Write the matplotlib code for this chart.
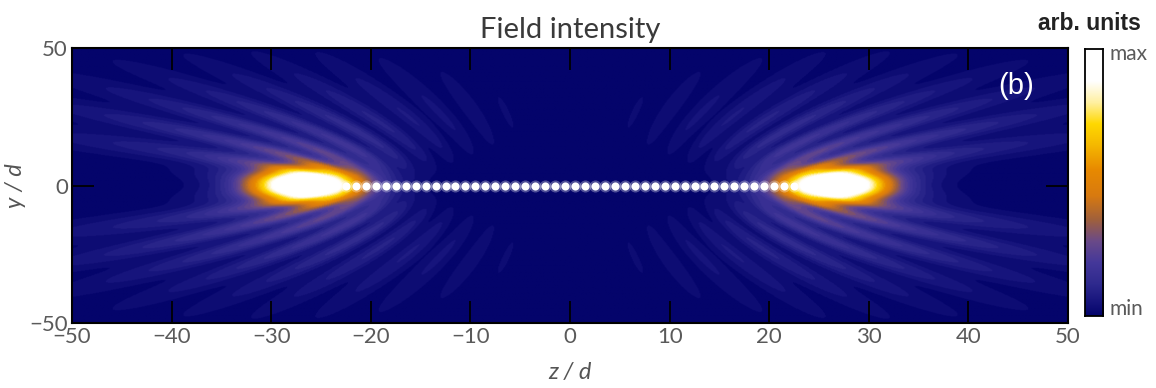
import numpy as np
import matplotlib
matplotlib.use("Agg")
import matplotlib.pyplot as plt
from matplotlib.colors import LinearSegmentedColormap

# chain of atoms along z (units of the lattice spacing d)
atom_z = np.arange(-24.5, 25.0, 1.0)
atom_y = np.zeros_like(atom_z)

# bright spots sitting just past both ends of the chain
spot_z = [-26.5, 26.5]
spot_amp = [1.0, 1.0]
spot_wz = [5.4, 5.4]
spot_wy = [6.0, 6.0]

# soft glow around each spot
glow_amp = 0.16
glow_wz = 10.0
glow_wy = 13.0

# light radiated out of the two ends (interferes between the ends)
wavelength = 4.5
lobe_amp = 0.17
lobe_len_out = 38.0
lobe_len_in = 21.0
lobe_len_y = 32.0
lobe_fwd = 0.4
lobe_hole = 7.0
fringe_depth = 0.45

x_ticks = [-50, -40, -30, -20, -10, 0, 10, 20, 30, 40, 50]
y_ticks = [-50, 0, 50]

cmap_stops = [0.0, 0.06, 0.12, 0.20, 0.28, 0.36, 0.45, 0.55, 0.64, 0.72, 0.80, 0.88, 1.0]
cmap_colors = ["#04046b", "#1a177f", "#2f2a8e", "#45389a", "#6a4a88", "#a0603c",
               "#d87a10", "#e88a00", "#f5b800", "#ffd800", "#fff0a0", "#ffffff", "#ffffff"]
field_cmap = LinearSegmentedColormap.from_list("field", list(zip(cmap_stops, cmap_colors)))
band_cmap = field_cmap.resampled(40)

z = np.linspace(-50, 50, 1001)
y = np.linspace(-50, 50, 501)
Z, Y = np.meshgrid(z, y)

core = np.zeros_like(Z)
lobes = np.zeros_like(Z)
dist = []
for zc, a, wz, wy in zip(spot_z, spot_amp, spot_wz, spot_wy):
    rho = np.hypot((Z - zc) / wz, Y / wy)
    core += a * np.exp(-rho ** 2.5)
    core += glow_amp * np.exp(-np.hypot((Z - zc) / glow_wz, Y / glow_wy) ** 3)
    u = (Z - zc) * np.sign(zc)
    r = np.hypot(u, Y) + 1e-9
    dist.append(r)
    c, s = u / r, np.abs(Y) / r
    lz = np.where(u > 0, lobe_len_out, lobe_len_in)
    reff = np.hypot(u / lz, Y / lobe_len_y)
    lobes += (lobe_amp * s ** 2 * (1 + lobe_fwd * c) * np.exp(-reff ** 2)
              * (1 - np.exp(-(r / lobe_hole) ** 2)))

# two-end interference fringes
fringes = 1 + fringe_depth * np.cos(2 * np.pi / wavelength * (dist[0] - dist[1]))
intensity = np.clip(core + lobes * fringes, 0, 1)

fig = plt.figure(figsize=(11.56, 3.88), dpi=100)
ax = fig.add_axes([0.0623, 0.1675, 0.8616, 0.7088])
ax.imshow(band_cmap(intensity), origin="lower", extent=[-50, 50, -50, 50],
          aspect="auto", interpolation="bilinear")

ax.scatter(atom_z, atom_y, s=75, color="white", alpha=0.3, lw=0, zorder=3)
ax.scatter(atom_z, atom_y, s=34, color="white", lw=0, zorder=4)

ax.set_xlim(-50, 50)
ax.set_ylim(-50, 50)
ax.set_xticks(x_ticks)
ax.set_yticks(y_ticks)
ax.tick_params(direction="in", length=16, width=1.3, top=True, right=True,
               labelsize=16, labelcolor="#5a5a5a", pad=3)
for t in ax.get_xticklabels() + ax.get_yticklabels():
    t.set_fontfamily("Lato")
for sp in ax.spines.values():
    sp.set_linewidth(1.5)

ax.set_xlabel("z / d", fontsize=17, style="italic", color="#555555", family="Lato", labelpad=11)
ax.set_ylabel("y / d", fontsize=17, style="italic", color="#555555", family="Lato", labelpad=2)
ax.set_title("Field intensity", fontsize=21, family="Lato", color="#3a3a3a", pad=7)
ax.text(0.948, 0.86, "(b)", transform=ax.transAxes, color="white", fontsize=21,
        family="Liberation Sans", ha="center", va="center")

# colour scale
cax = fig.add_axes([0.9386, 0.1856, 0.0156, 0.688])
cax.imshow(np.linspace(0, 1, 256)[:, None], origin="lower", aspect="auto", cmap=field_cmap,
           extent=[0, 1, 0, 1])
cax.set_xticks([])
cax.set_yticks([])
for sp in cax.spines.values():
    sp.set_linewidth(1.3)
cax.text(1.35, 1.02, "max", transform=cax.transAxes, fontsize=15, color="#5a5a5a",
         family="Lato", ha="left", va="top")
cax.text(1.35, -0.01, "min", transform=cax.transAxes, fontsize=15, color="#5a5a5a",
         family="Lato", ha="left", va="bottom")
fig.text(0.9425, 0.94, "arb. units", fontsize=16.5, color="#222222", family="Liberation Sans",
         weight="bold", ha="center", va="center")

fig.savefig("out.png", dpi=100)
